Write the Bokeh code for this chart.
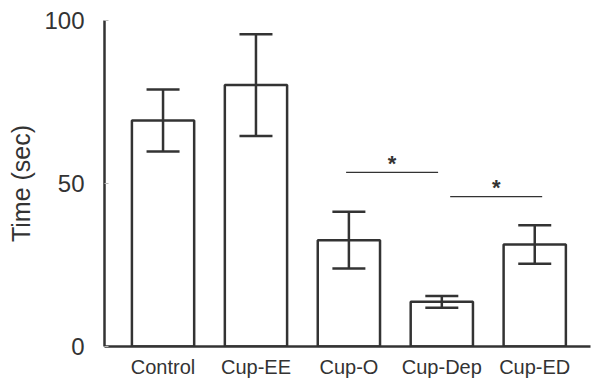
from bokeh.plotting import figure
from bokeh.models import ColumnDataSource, Whisker, TeeHead, FixedTicker, Range1d
from bokeh.core.properties import value
from bokeh.embed import file_html
from bokeh.resources import INLINE

# ---- data ----
categories = ["Control", "Cup-EE", "Cup-O", "Cup-Dep", "Cup-ED"]
means = [69.3, 80.2, 32.6, 13.7, 31.3]
errors = [9.5, 15.6, 8.7, 1.8, 5.9]
y_ticks = [0, 50, 100]

# significance brackets
sig_start = [1.97, 3.09]
sig_end = [2.96, 4.08]
sig_height = [53.4, 46.0]
sig_label = ["*", "*"]

FONT = "Liberation Sans"
INK = "#333333"

xs = list(range(len(categories)))
src = ColumnDataSource(dict(
    x=xs, top=means,
    upper=[m + e for m, e in zip(means, errors)],
    lower=[m - e for m, e in zip(means, errors)],
))

p = figure(width=592, height=381, output_backend="svg", toolbar_location=None,
           x_range=Range1d(-0.63, 4.60), y_range=Range1d(0, 100),
           min_border_left=104, min_border_right=2, min_border_top=20, min_border_bottom=35)
p.outline_line_color = None
p.xgrid.visible = False
p.ygrid.visible = False
p.background_fill_color = "white"

p.vbar(x="x", top="top", bottom=0, width=0.67, source=src,
       fill_color="white", line_color=INK, line_width=2.5)

w = Whisker(base="x", upper="upper", lower="lower", source=src, level="overlay",
            line_color=INK, line_width=2.5,
            upper_head=TeeHead(size=33, line_color=INK, line_width=2.5),
            lower_head=TeeHead(size=33, line_color=INK, line_width=2.5))
p.add_layout(w)

sig_src = ColumnDataSource(dict(
    x0=sig_start, x1=sig_end, y=sig_height,
    xm=[(a + b) / 2 for a, b in zip(sig_start, sig_end)],
    lab=sig_label,
))
p.segment(x0="x0", y0="y", x1="x1", y1="y", source=sig_src, line_color=INK, line_width=1.3)
p.text(x="xm", y="y", text="lab", source=sig_src, text_font=value(FONT),
       text_font_size="22px", text_font_style="bold", text_color=INK, text_align="center",
       text_baseline="alphabetic", y_offset=-9)

# y axis
ya = p.yaxis[0]
ya.ticker = FixedTicker(ticks=y_ticks)
ya.axis_label = "Time (sec)"
ya.axis_label_text_font = FONT
ya.axis_label_text_font_style = "normal"
ya.axis_label_text_font_size = "25px"
ya.axis_label_text_color = INK
ya.axis_label_standoff = 6
ya.major_label_text_font = FONT
ya.major_label_text_font_size = "24px"
ya.major_label_text_color = INK
ya.major_label_standoff = 20
ya.axis_line_color = INK
ya.axis_line_width = 2.5
ya.major_tick_in = 4
ya.major_tick_out = 0
ya.major_tick_line_color = "#bbbbbb"
ya.minor_tick_line_color = None

# x axis
xa = p.xaxis[0]
xa.ticker = FixedTicker(ticks=xs)
xa.major_label_overrides = {i: c for i, c in zip(xs, categories)}
xa.major_label_text_font = FONT
xa.major_label_text_font_size = "20px"
xa.major_label_text_color = INK
xa.major_label_standoff = 3
xa.axis_line_color = INK
xa.axis_line_width = 2.5
xa.major_tick_line_color = None
xa.minor_tick_line_color = None

open("out.html", "w").write(file_html(p, INLINE))
